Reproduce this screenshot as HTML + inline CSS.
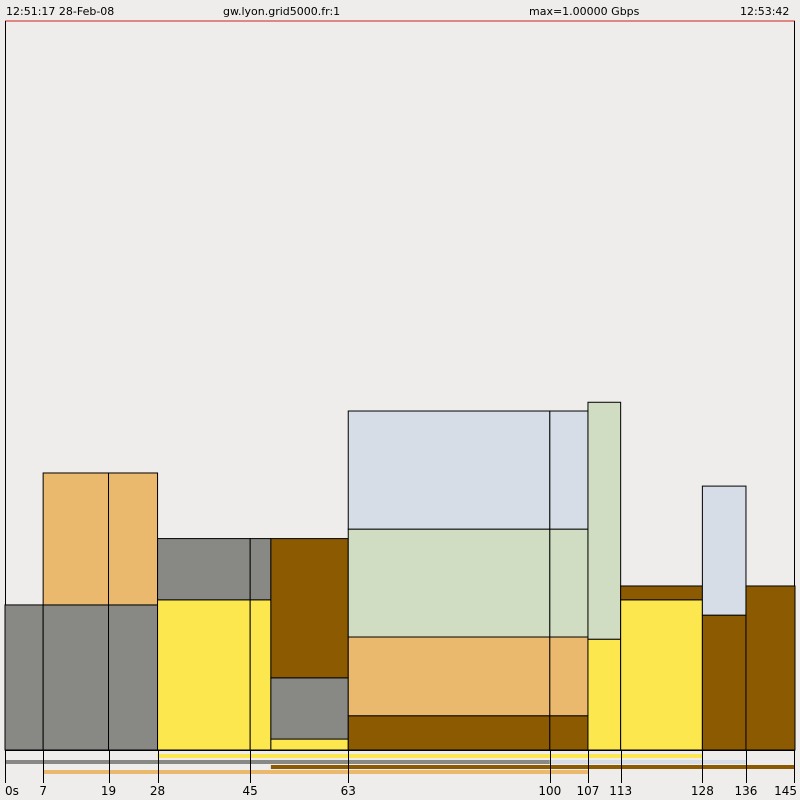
<!DOCTYPE html>
<html><head><meta charset="utf-8"><style>
body{margin:0;background:#eeedeb;}
svg{display:block;font-family:"DejaVu Sans","Liberation Sans",sans-serif;}
</style></head><body>
<svg id="chart" width="800" height="800">
<rect x="0" y="0" width="800" height="800" fill="#eeedeb"/>
<text x="6" y="15" font-size="11">12:51:17 28-Feb-08</text>
<text x="223" y="15" font-size="11">gw.lyon.grid5000.fr:1</text>
<text x="529" y="15" font-size="11">max=1.00000 Gbps</text>
<text x="740" y="15" font-size="11">12:53:42</text>
<line x1="5" y1="21" x2="795" y2="21" stroke="#cc2222"/>
<line x1="5.5" y1="21" x2="5.5" y2="750" stroke="#000"/>
<line x1="794.5" y1="21" x2="794.5" y2="750" stroke="#000"/>
<g id="bars"></g>
<g id="strips"></g>
<g id="ticks"></g>
</svg>
<script>
const ticks = [0,7,19,28,45,63,100,107,113,128,136,145];
const tickLabels = ["0s","7","19","28","45","63","100","107","113","128","136","145"];
const intervalStart = [0,7,19,28,45,48.8,63,100,107,113,128,136];
const intervalEnd   = [7,19,28,45,48.8,63,100,107,113,128,136,145];
const yellowVals = [0,0,0,0.206,0.206,0.015,0,0,0.152,0.206,0,0];
const brownVals  = [0,0,0,0,0,0.191,0.047,0.047,0,0.019,0.185,0.225];
const grayVals   = [0.199,0.199,0.199,0.084,0.084,0.084,0,0,0,0,0,0];
const orangeVals = [0,0.181,0.181,0,0,0,0.108,0.108,0,0,0,0];
const greenVals  = [0,0,0,0,0,0,0.148,0.148,0.325,0,0,0];
const blueVals   = [0,0,0,0,0,0,0.162,0.162,0,0,0.177,0];
const stackOrders = [
 ["gray"],["gray","orange"],["gray","orange"],["yellow","gray"],["yellow","gray"],["yellow","gray","brown"],
 ["brown","orange","green","blue"],["brown","orange","green","blue"],["yellow","green"],["yellow","brown"],["brown","blue"],["brown"]];
const colors = {yellow:"#fde74f",brown:"#8c5a00",gray:"#888985",orange:"#ebb96d",green:"#d0ddc2",blue:"#d6dde6"};
const vals = {yellow:yellowVals,brown:brownVals,gray:grayVals,orange:orangeVals,green:greenVals,blue:blueVals};
const stripSeries = ["yellow","gray","blue","brown","orange"];
const stripStart = [28,0,100,48.8,7];
const stripEnd   = [128,100,136,145,107];

const X0=5, X1=795, TMAX=145, Y0=750, Y1=21;
const x = t => X0 + (X1-X0)*t/TMAX;
const y = v => Y0 - (Y0-Y1)*v;
const NS="http://www.w3.org/2000/svg";
const bars=document.getElementById("bars");
intervalStart.forEach((s,i)=>{
  let acc=0;
  stackOrders[i].forEach(name=>{
    const v=vals[name][i]; if(!v) return;
    const r=document.createElementNS(NS,"rect");
    r.setAttribute("x",x(s)); r.setAttribute("width",x(intervalEnd[i])-x(s));
    r.setAttribute("y",y(acc+v)); r.setAttribute("height",y(acc)-y(acc+v));
    r.setAttribute("fill",colors[name]); r.setAttribute("stroke","#000"); r.setAttribute("stroke-width","1");
    
    
    bars.appendChild(r); acc+=v;
  });
});
const strips=document.getElementById("strips");
const stripY={yellow:754,gray:760,blue:760,brown:765,orange:770};
stripSeries.forEach((name,i)=>{
  const r=document.createElementNS(NS,"rect");
  r.setAttribute("x",x(stripStart[i])); r.setAttribute("width",x(stripEnd[i])-x(stripStart[i]));
  r.setAttribute("y",stripY[name]); r.setAttribute("height",4);
  r.setAttribute("fill",colors[name]);
  
  
  strips.appendChild(r);
});
const tg=document.getElementById("ticks");
const base=document.createElementNS(NS,"line");
base.setAttribute("x1",X0); base.setAttribute("x2",X1); base.setAttribute("y1",750.5); base.setAttribute("y2",750.5); base.setAttribute("stroke","#000");


tg.appendChild(base);
ticks.forEach((t,i)=>{
  const l=document.createElementNS(NS,"line");
  const xx=Math.round(x(t))+0.5-(i===ticks.length-1?1:0);
  l.setAttribute("x1",xx); l.setAttribute("x2",xx); l.setAttribute("y1",750); l.setAttribute("y2",783); l.setAttribute("stroke","#000");
  
  
  tg.appendChild(l);
  const tx=document.createElementNS(NS,"text");
  tx.setAttribute("x",i===0?5:(i===ticks.length-1?x(t)+2:x(t)));
  tx.setAttribute("y",795); tx.setAttribute("font-size","12");
  tx.setAttribute("text-anchor",i===0?"start":(i===ticks.length-1?"end":"middle"));
  tx.textContent=tickLabels[i];
  
  
  tg.appendChild(tx);
});
</script>
</body></html>
